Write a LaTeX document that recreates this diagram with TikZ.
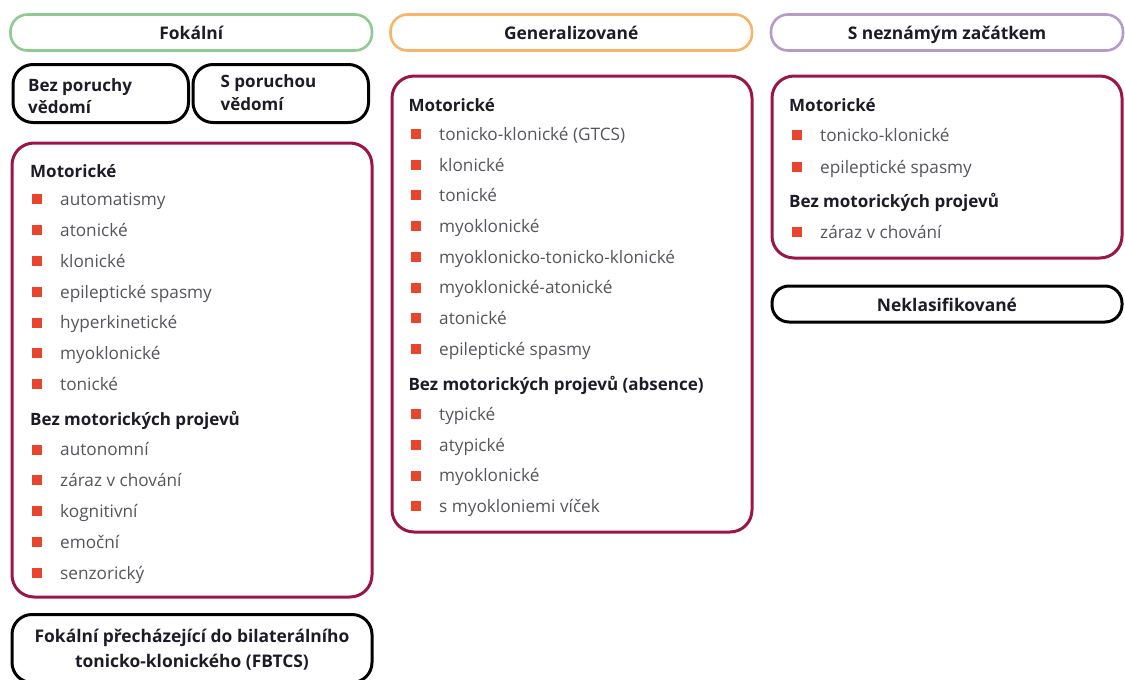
\documentclass[tikz,border=0pt]{standalone}
\usepackage{fontspec}
\setmainfont{Open Sans}
\definecolor{cgreen}{HTML}{8DCB92}
\definecolor{corange}{HTML}{F8B56A}
\definecolor{cpurple}{HTML}{B69ACB}
\definecolor{ccrimson}{HTML}{9C1548}
\definecolor{cbullet}{HTML}{E8452C}
\definecolor{citem}{HTML}{55555C}
\definecolor{chead}{HTML}{1C1C28}
\tikzset{
  x=1pt, y=-1pt,
  hdr/.style={draw=#1, line width=2.6pt, rounded corners=17pt, minimum height=36pt, inner sep=0pt},
  blk/.style={draw=black, line width=3pt, rounded corners=20pt, inner sep=0pt},
  grp/.style={draw=ccrimson, line width=3pt, rounded corners=22pt, inner sep=0pt},
  sub/.style={anchor=base west, inner sep=0pt, font=\fontsize{17}{20}\selectfont\bfseries, text=chead},
  itm/.style={anchor=base west, inner sep=0pt, font=\fontsize{17.2}{20}\selectfont, text=citem},
  btxt/.style={anchor=base, inner sep=0pt, font=\fontsize{17.4}{20}\selectfont\bfseries, text=chead},
  bul/.style={fill=cbullet, minimum size=10pt, inner sep=0pt},
}
\begin{document}
\begin{tikzpicture}
\useasboundingbox (0,0) rectangle (1125,680);
% header boxes
\node[hdr=cgreen, minimum width=361.5pt] (hfok) at (191.25,32.5) {};
\node[hdr=corange, minimum width=361.5pt] (hgen) at (571.25,32.5) {};
\node[hdr=cpurple, minimum width=352pt] (hunk) at (947,32.5) {};
\node[btxt] (hfokt) at (191.25,39.5) {Fokální};
\node[btxt] (hgent) at (571.25,39.5) {Generalizované};
\node[btxt] (hunkt) at (947,39.5) {S neznámým začátkem};
% consciousness boxes
\node[blk, minimum width=175.5pt, minimum height=58pt] (bez) at (100.75,93.5) {};
\node[blk, minimum width=175.5pt, minimum height=58pt] (spor) at (280.75,93.5) {};
\node[sub] (bez1) at (28,91.5) {Bez poruchy};
\node[sub] (bez2) at (28,113) {vědomí};
\node[sub] (spor1) at (220.5,87.8) {S poruchou};
\node[sub] (spor2) at (220.5,110) {vědomí};
% group boxes
\node[grp, minimum width=360pt, minimum height=454pt] (gfok) at (192,370) {};
\node[grp, minimum width=360pt, minimum height=456pt] (ggen) at (572,304) {};
\node[grp, minimum width=350pt, minimum height=182pt] (gunk) at (947,167) {};
% FBTCS
\node[blk, minimum width=360pt, minimum height=68pt] (fbtcs) at (192,648.5) {};
\node[btxt] (fbt1) at (192,642) {Fokální přecházející do bilaterálního};
\node[btxt] (fbt2) at (192,667) {tonicko-klonického (FBTCS)};
% Neklasifikované
\node[blk, minimum width=350pt, minimum height=36pt, rounded corners=17pt] (nekl) at (947,304) {};
\node[btxt] (neklt) at (947,311.5) {Neklasifikované};

% focal list
\node[sub] (fs1) at (30,177) {Motorické};
\foreach \t [count=\i] in {automatismy,atonické,klonické,epileptické spasmy,hyperkinetické,myoklonické,tonické}{
  \node[bul] (fb\i) at (37,{205.7+(\i-1)*30.8-6.3}) {};
  \node[itm] (ft\i) at (60,{205.7+(\i-1)*30.8}) {\t};
}
\node[sub] (fs2) at (30,425) {Bez motorických projevů};
\foreach \t [count=\i] in {autonomní,záraz v chování,kognitivní,emoční,senzorický}{
  \node[bul] (fc\i) at (37,{455.8+(\i-1)*30.8-6.3}) {};
  \node[itm] (fu\i) at (60,{455.8+(\i-1)*30.8}) {\t};
}

% generalized list
\node[sub] (gs1) at (408.3,111.3) {Motorické};
\foreach \t [count=\i] in {tonicko-klonické (GTCS),klonické,tonické,myoklonické,myoklonicko-tonicko-klonické,myoklonické-atonické,atonické,epileptické spasmy}{
  \node[bul] (gb\i) at (415.5,{140.3+(\i-1)*30.7-6.3}) {};
  \node[itm] (gt\i) at (439,{140.3+(\i-1)*30.7}) {\t};
}
\node[sub] (gs2) at (408.3,390.3) {Bez motorických projevů (absence)};
\foreach \t [count=\i] in {typické,atypické,myoklonické,s myokloniemi víček}{
  \node[bul] (gc\i) at (415.5,{420.5+(\i-1)*30.7-6.3}) {};
  \node[itm] (gu\i) at (439,{420.5+(\i-1)*30.7}) {\t};
}

% unknown list
\node[sub] (us1) at (789,111.3) {Motorické};
\node[bul] (ub1) at (797,135.2) {};
\node[itm] (ut1) at (820,141.5) {tonicko-klonické};
\node[bul] (ub2) at (797,166.7) {};
\node[itm] (ut2) at (820,173) {epileptické spasmy};
\node[sub] (us2) at (789,207) {Bez motorických projevů};
\node[bul] (uc1) at (797,231.7) {};
\node[itm] (uu1) at (820,238) {záraz v chování};
\end{tikzpicture}
\end{document}
